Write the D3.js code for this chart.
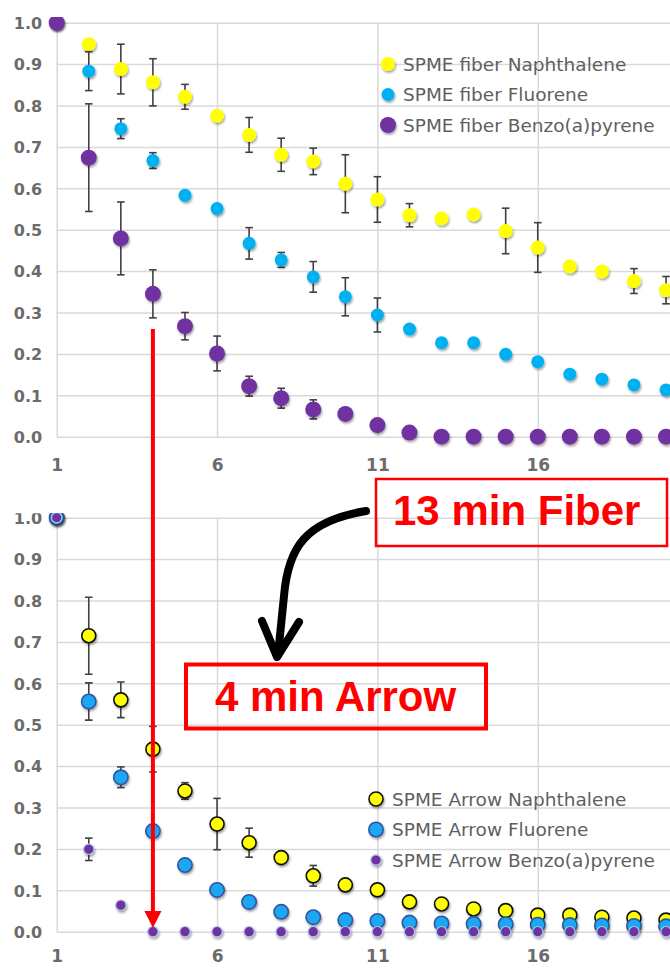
<!DOCTYPE html>
<html>
<head>
<meta charset="utf-8">
<script src="https://cdn.jsdelivr.net/npm/d3@7"></script>
<style>
  html, body { margin: 0; padding: 0; background: #fff; }
  svg { display: block; }
</style>
</head>
<body>
<div id="chart"></div>
<script>
// ---------- DATA ----------
const xs = [1,2,3,4,5,6,7,8,9,10,11,12,13,14,15,16,17,18,19,20];
const xTicks = [1,6,11,16];
const yTicks = [0,0.1,0.2,0.3,0.4,0.5,0.6,0.7,0.8,0.9,1.0];

const fiberNames = ["SPME fiber Naphthalene","SPME fiber Fluorene","SPME fiber Benzo(a)pyrene"];
const fiberNaph = [1.0,0.948,0.888,0.856,0.821,0.775,0.729,0.681,0.665,0.611,0.573,0.535,0.527,0.537,0.497,0.457,0.411,0.399,0.376,0.354];
const fiberNaphErr = [0,0.01,0.06,0.057,0.03,0.004,0.042,0.04,0.032,0.07,0.055,0.028,0.01,0.008,0.055,0.06,0.01,0.01,0.03,0.033];
const fiberFluor = [1.0,0.883,0.744,0.667,0.583,0.551,0.467,0.427,0.386,0.338,0.294,0.260,0.227,0.227,0.199,0.181,0.151,0.139,0.125,0.113];
const fiberFluorErr = [0,0.047,0.024,0.019,0.004,0.004,0.038,0.018,0.037,0.046,0.041,0.004,0.008,0.004,0.004,0.008,0.004,0.004,0.004,0.004];
const fiberBaP = [1.0,0.674,0.479,0.345,0.267,0.201,0.122,0.093,0.066,0.055,0.028,0.010,0,0,0,0,0,0,0,0];
const fiberBaPErr = [0,0.13,0.088,0.058,0.033,0.042,0.024,0.024,0.023,0.01,0.005,0,0,0,0,0,0,0,0,0];

const arrowNames = ["SPME Arrow Naphthalene","SPME Arrow Fluorene","SPME Arrow Benzo(a)pyrene"];
const arrowNaph = [1.0,0.715,0.560,0.441,0.340,0.260,0.215,0.179,0.135,0.113,0.101,0.072,0.067,0.055,0.051,0.040,0.040,0.035,0.033,0.028];
const arrowNaphErr = [0,0.093,0.043,0.055,0.02,0.062,0.035,0.005,0.025,0.005,0,0,0,0,0,0,0,0,0,0];
const arrowFluor = [1.0,0.556,0.373,0.243,0.161,0.101,0.072,0.048,0.035,0.028,0.026,0.022,0.020,0.019,0.018,0.017,0.016,0.015,0.014,0.013];
const arrowFluorErr = [0,0.045,0.025,0,0,0,0,0,0,0,0,0,0,0,0,0,0,0,0,0];
const arrowBaP = [1.0,0.199,0.064,0,0,0,0,0,0,0,0,0,0,0,0,0,0,0,0,0];
const arrowBaPErr = [0,0.027,0,0,0,0,0,0,0,0,0,0,0,0,0,0,0,0,0,0];

const annoFiber = "13 min Fiber";
const annoArrow = "4 min Arrow";
const annoX = 4;

// ---------- LAYOUT ----------
const W = 670, H = 968;
const svg = d3.select("#chart").append("svg").attr("width", W).attr("height", H);
const defs = svg.append("defs");
const f = defs.append("filter").attr("id","shadow").attr("x","-50%").attr("y","-50%").attr("width","200%").attr("height","200%");
f.append("feDropShadow").attr("dx",1).attr("dy",1.8).attr("stdDeviation",1.3).attr("flood-color","#000").attr("flood-opacity",0.38);

defs.append("clipPath").attr("id","clipTop").append("rect").attr("x",0).attr("y",17).attr("width",W).attr("height",470);
defs.append("clipPath").attr("id","clipBot").append("rect").attr("x",0).attr("y",513.3).attr("width",W).attr("height",460);

const x = d3.scaleLinear().domain([1,21]).range([56.7, 698.1]);
const yTop = d3.scaleLinear().domain([0,1]).range([436.7, 22.7]);
const yBot = d3.scaleLinear().domain([0,1]).range([931.7, 517.7]);

function drawPanel(clipId, y, series, legend, xPad) {
  const g = svg.append("g").attr("clip-path", `url(#${clipId})`);
  const plotW = x.range()[1] - x.range()[0];
  const plotH = y.range()[0] - y.range()[1];

  const ya = g.append("g").attr("transform", `translate(${x.range()[0]},0)`)
    .call(d3.axisLeft(y).tickValues(yTicks).tickFormat(d3.format(".1f"))
      .tickSizeInner(-plotW).tickSizeOuter(0).tickPadding(14.5));
  ya.select(".domain").remove();
  ya.selectAll("line").attr("stroke","#d9d9d9").attr("stroke-width",1.5);
  ya.selectAll("text").attr("fill","#6b6b6b").attr("font-family","DejaVu Sans").attr("font-weight","bold").attr("font-size",16).attr("dy","0.36em");

  const xa = g.append("g").attr("transform", `translate(0,${y.range()[0]})`)
    .call(d3.axisBottom(x).tickValues(xTicks).tickFormat(d3.format("d"))
      .tickSizeInner(-plotH).tickSizeOuter(0).tickPadding(xPad));
  xa.select(".domain").remove();
  xa.selectAll("line").attr("stroke","#d9d9d9").attr("stroke-width",1.5);
  xa.selectAll("text").attr("fill","#6b6b6b").attr("font-family","DejaVu Sans").attr("font-weight","bold").attr("font-size",17).attr("dy","0.71em");

  series.forEach(s => {
    const data = xs.map((d,i) => ({x:d, v:s.values[i], e:s.err[i]}));
    const eb = g.append("g").attr("stroke","#404040").attr("stroke-width",1.6).attr("fill","none");
    data.filter(d => d.e > 0).forEach(d => {
      const cx = x(d.x), y1 = y(d.v + d.e), y2 = y(d.v - d.e);
      eb.append("line").attr("x1",cx).attr("x2",cx).attr("y1",y1).attr("y2",y2);
      eb.append("line").attr("x1",cx-3.8).attr("x2",cx+3.8).attr("y1",y1).attr("y2",y1);
      eb.append("line").attr("x1",cx-3.8).attr("x2",cx+3.8).attr("y1",y2).attr("y2",y2);
    });
    g.append("g").selectAll("circle").data(data).join("circle")
      .attr("cx", d => x(d.x)).attr("cy", d => y(d.v)).attr("r", s.r)
      .attr("fill", s.fill).attr("stroke", s.stroke || "none").attr("stroke-width", s.sw || 0)
      .attr("filter","url(#shadow)");
  });

  const lg = svg.append("g");
  series.forEach((s,i) => {
    const ly = legend.y0 + i*legend.dy;
    lg.append("circle").attr("cx", legend.mx).attr("cy", ly).attr("r", s.r)
      .attr("fill", s.fill).attr("stroke", s.stroke || "none").attr("stroke-width", s.sw || 0)
      .attr("filter","url(#shadow)");
    lg.append("text").attr("x", legend.tx).attr("y", ly).attr("dy","0.36em")
      .attr("font-family","DejaVu Sans").attr("font-size",18.5).attr("fill","#5f5f5f")
      .text(s.name);
  });
}

drawPanel("clipTop", yTop, [
  {name: fiberNames[0], values: fiberNaph, err: fiberNaphErr, fill:"#ffff00", r:7},
  {name: fiberNames[1], values: fiberFluor, err: fiberFluorErr, fill:"#00b0f0", r:6.5},
  {name: fiberNames[2], values: fiberBaP, err: fiberBaPErr, fill:"#7030a0", r:8}
], {mx: 388, tx: 403, y0: 64, dy: 30.5}, 22);

drawPanel("clipBot", yBot, [
  {name: arrowNames[0], values: arrowNaph, err: arrowNaphErr, fill:"#ffff00", stroke:"#111", sw:1.6, r:7},
  {name: arrowNames[1], values: arrowFluor, err: arrowFluorErr, fill:"#1ea7f2", stroke:"#2f55a4", sw:1.6, r:7.2},
  {name: arrowNames[2], values: arrowBaP, err: arrowBaPErr, fill:"#7030a0", stroke:"#a9c8ea", sw:1.2, r:5.2}
], {mx: 376, tx: 392, y0: 799, dy: 30.5}, 18.5);

// ---------- ANNOTATIONS ----------
const ann = svg.append("g");
const rx = x(annoX);
const tipY = yBot(0.009);
ann.append("line").attr("x1", rx).attr("x2", rx).attr("y1", yTop(0.26)).attr("y2", tipY - 14)
  .attr("stroke","#ff0000").attr("stroke-width",4);
ann.append("path").attr("d", `M${rx},${tipY} L${rx-8.5},${tipY-17} L${rx+8.5},${tipY-17} Z`).attr("fill","#ff0000");

// curved black arrow
ann.append("path").attr("d","M366,511 C305,521 288,548 284,596 L278,655")
  .attr("fill","none").attr("stroke","#000").attr("stroke-width",8).attr("stroke-linecap","round");
ann.append("path").attr("d","M262,621 L277,657 L299,622")
  .attr("fill","none").attr("stroke","#000").attr("stroke-width",8).attr("stroke-linecap","round").attr("stroke-linejoin","round");

ann.append("rect").attr("x",376).attr("y",479).attr("width",291).attr("height",67)
  .attr("fill","none").attr("stroke","#ff0000").attr("stroke-width",2.5);
ann.append("text").attr("x",393).attr("y",525).attr("font-family","Liberation Sans, Arial, sans-serif")
  .attr("font-weight","bold").attr("font-size",42).attr("fill","#ff0000").text(annoFiber);

ann.append("rect").attr("x",186).attr("y",664.5).attr("width",300).attr("height",64)
  .attr("fill","none").attr("stroke","#ff0000").attr("stroke-width",4);
ann.append("text").attr("x",215).attr("y",710.5).attr("font-family","Liberation Sans, Arial, sans-serif")
  .attr("font-weight","bold").attr("font-size",42).attr("fill","#ff0000").text(annoArrow);
</script>
</body>
</html>
